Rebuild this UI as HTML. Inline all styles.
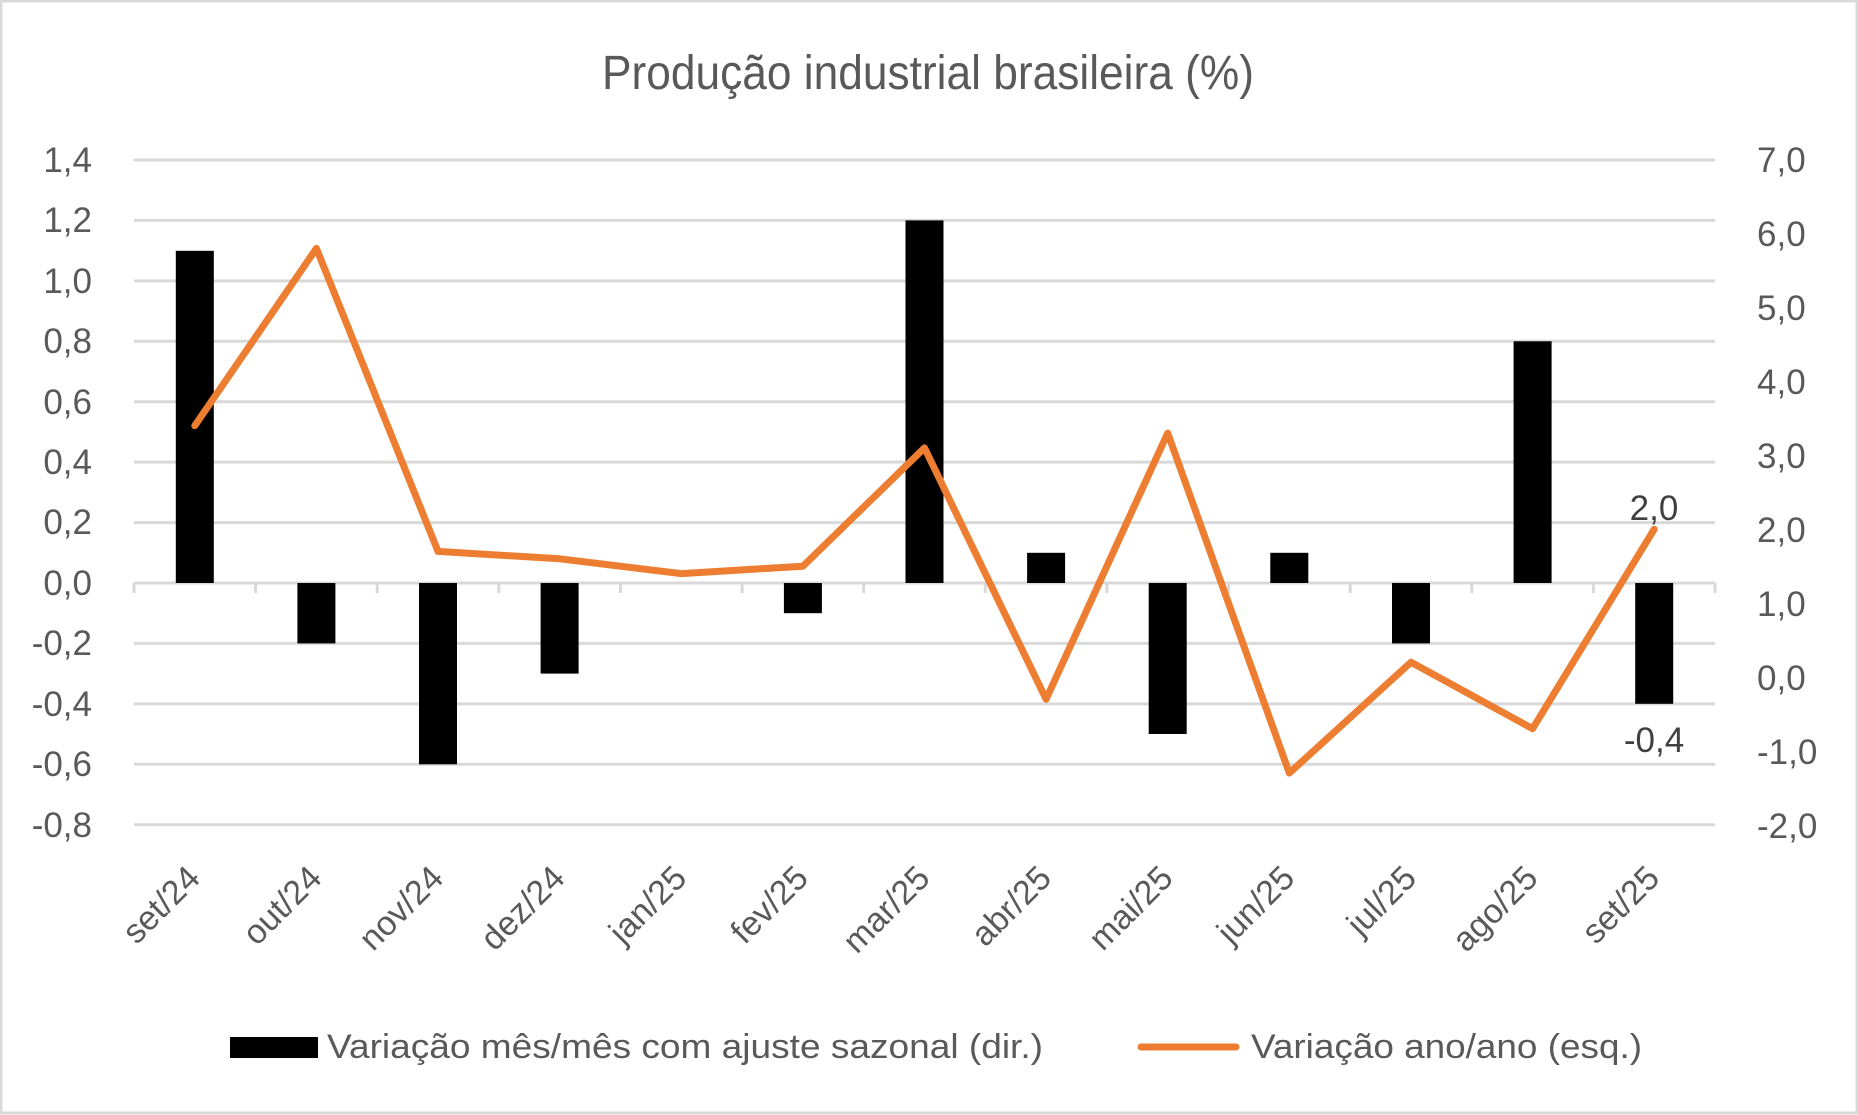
<!DOCTYPE html>
<html><head><meta charset="utf-8"><style>
html,body{margin:0;padding:0;background:#fff;}
svg{display:block;}
text{font-family:"Liberation Sans",sans-serif;fill:#595959;}
</style></head><body>
<svg width="1858" height="1115" viewBox="0 0 1858 1115" xmlns="http://www.w3.org/2000/svg">
<rect x="1" y="1" width="1856" height="1112" fill="#fff" stroke="#d9d9d9" stroke-width="3"/>
<text x="928" y="89" font-size="48" text-anchor="middle" textLength="652" lengthAdjust="spacingAndGlyphs">Produção industrial brasileira (%)</text>
<g stroke="#d9d9d9" stroke-width="3">
<line x1="134" x2="1715" y1="160" y2="160"/>
<line x1="134" x2="1715" y1="220.4" y2="220.4"/>
<line x1="134" x2="1715" y1="280.9" y2="280.9"/>
<line x1="134" x2="1715" y1="341.3" y2="341.3"/>
<line x1="134" x2="1715" y1="401.7" y2="401.7"/>
<line x1="134" x2="1715" y1="462.1" y2="462.1"/>
<line x1="134" x2="1715" y1="522.6" y2="522.6"/>
<line x1="134" x2="1715" y1="583" y2="583"/>
<line x1="134" x2="1715" y1="643.4" y2="643.4"/>
<line x1="134" x2="1715" y1="703.9" y2="703.9"/>
<line x1="134" x2="1715" y1="764.3" y2="764.3"/>
<line x1="134" x2="1715" y1="824.7" y2="824.7"/>
</g>
<g stroke="#d9d9d9" stroke-width="3">
<line x1="134" x2="134" y1="583" y2="593"/><line x1="255.6" x2="255.6" y1="583" y2="593"/><line x1="377.2" x2="377.2" y1="583" y2="593"/><line x1="498.8" x2="498.8" y1="583" y2="593"/><line x1="620.5" x2="620.5" y1="583" y2="593"/><line x1="742.1" x2="742.1" y1="583" y2="593"/><line x1="863.7" x2="863.7" y1="583" y2="593"/><line x1="985.3" x2="985.3" y1="583" y2="593"/><line x1="1106.9" x2="1106.9" y1="583" y2="593"/><line x1="1228.5" x2="1228.5" y1="583" y2="593"/><line x1="1350.2" x2="1350.2" y1="583" y2="593"/><line x1="1471.8" x2="1471.8" y1="583" y2="593"/><line x1="1593.4" x2="1593.4" y1="583" y2="593"/><line x1="1715" x2="1715" y1="583" y2="593"/>
</g>
<g fill="#000">
<rect x="175.8" y="250.8" width="38" height="332.2"/>
<rect x="297.4" y="583" width="38" height="60.4"/>
<rect x="419" y="583" width="38" height="181.3"/>
<rect x="540.6" y="583" width="38" height="90.6"/>
<rect x="783.9" y="583" width="38" height="30.2"/>
<rect x="905.5" y="220.4" width="38" height="362.6"/>
<rect x="1027.1" y="552.8" width="38" height="30.2"/>
<rect x="1148.7" y="583" width="38" height="151"/>
<rect x="1270.3" y="552.8" width="38" height="30.2"/>
<rect x="1392" y="583" width="38" height="60.4"/>
<rect x="1513.6" y="341.3" width="38" height="241.7"/>
<rect x="1635.2" y="583" width="38" height="120.8"/>
</g>
<polyline fill="none" stroke="#ed7d31" stroke-width="7" stroke-linejoin="round" stroke-linecap="round"
points="194.8,425.7 316.4,248.4 438,551.4 559.6,558.8 681.3,573.6 802.9,566.2 924.5,447.9 1046.1,699.2 1167.7,433.1 1289.3,773.1 1411,662.2 1532.6,728.7 1654.2,529.2"/>
<g font-size="35" text-anchor="end">
<text x="92" y="172">1,4</text><text x="92" y="232">1,2</text><text x="92" y="293">1,0</text><text x="92" y="353">0,8</text><text x="92" y="414">0,6</text><text x="92" y="474">0,4</text><text x="92" y="534">0,2</text><text x="92" y="595">0,0</text><text x="92" y="655">-0,2</text><text x="92" y="716">-0,4</text><text x="92" y="776">-0,6</text><text x="92" y="837">-0,8</text>
</g>
<g font-size="35">
<text x="1757" y="172">7,0</text><text x="1757" y="246">6,0</text><text x="1757" y="320">5,0</text><text x="1757" y="394">4,0</text><text x="1757" y="468">3,0</text><text x="1757" y="542">2,0</text><text x="1757" y="616">1,0</text><text x="1757" y="690">0,0</text><text x="1757" y="764">-1,0</text><text x="1757" y="838">-2,0</text>
</g>
<text x="1654" y="520" font-size="35" text-anchor="middle" style="fill:#404040">2,0</text>
<text x="1654" y="752" font-size="35" text-anchor="middle" style="fill:#404040">-0,4</text>
<g font-size="34" text-anchor="end">
<text transform="translate(202,880) rotate(-45)">set/24</text>
<text transform="translate(323.6,880) rotate(-45)">out/24</text>
<text transform="translate(445.2,880) rotate(-45)">nov/24</text>
<text transform="translate(566.8,880) rotate(-45)">dez/24</text>
<text transform="translate(688.5,880) rotate(-45)">jan/25</text>
<text transform="translate(810.1,880) rotate(-45)">fev/25</text>
<text transform="translate(931.7,880) rotate(-45)">mar/25</text>
<text transform="translate(1053.3,880) rotate(-45)">abr/25</text>
<text transform="translate(1174.9,880) rotate(-45)">mai/25</text>
<text transform="translate(1296.5,880) rotate(-45)">jun/25</text>
<text transform="translate(1418.2,880) rotate(-45)">jul/25</text>
<text transform="translate(1539.8,880) rotate(-45)">ago/25</text>
<text transform="translate(1661.4,880) rotate(-45)">set/25</text>
</g>
<rect x="230" y="1037" width="88" height="21" fill="#000"/>
<text x="327" y="1058" font-size="34" textLength="716" lengthAdjust="spacingAndGlyphs">Variação mês/mês com ajuste sazonal (dir.)</text>
<line x1="1141" x2="1236" y1="1047" y2="1047" stroke="#ed7d31" stroke-width="7" stroke-linecap="round"/>
<text x="1251" y="1058" font-size="34" textLength="391" lengthAdjust="spacingAndGlyphs">Variação ano/ano (esq.)</text>
</svg>
</body></html>
